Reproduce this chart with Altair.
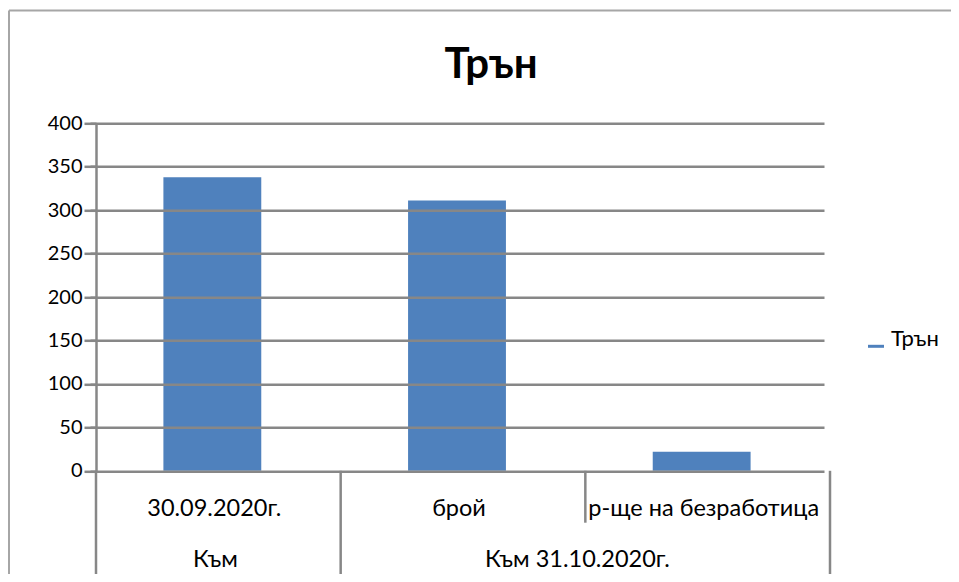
import altair as alt
import pandas as pd

# ---- data ----
categories = ["30.09.2020г.", "брой", "р-ще на безработица"]
values = [338, 311, 22]
group_labels = ["Към", "Към 31.10.2020г."]
series_name = "Трън"
chart_title = "Трън"
y_ticks = [0, 50, 100, 150, 200, 250, 300, 350, 400]

FONT = "Lato"
GRID = "#878787"
FRAME = "#A6A6A6"
BAR = "#4F81BD"
LW = 2.5

W, H = 734, 347.5
BOTTOM = 450.7
HALF_BAND = W / len(categories) / 2

bars_df = pd.DataFrame({"cat": categories, "value": values,
                        "series": [series_name] * len(categories)})
cat_df = pd.DataFrame({"cat": categories})
one = pd.DataFrame({"k": [0]})

xs = alt.Scale(domain=categories, paddingInner=0, paddingOuter=0)
bar_x = alt.Scale(domain=categories, paddingInner=0, paddingOuter=0, range=[-6, W - 6])
ys = alt.Scale(domain=[0, 400], nice=False)

bars = alt.Chart(bars_df).mark_bar(width=alt.RelativeBandSize(0.4)).encode(
    x=alt.X("cat:N", scale=bar_x, axis=None, sort=categories),
    y=alt.Y("value:Q", scale=ys, axis=alt.Axis(
        values=y_ticks, grid=True, gridColor=GRID, gridWidth=LW,
        domainColor=GRID, domainWidth=LW, tickColor=GRID, tickWidth=LW,
        tickSize=12, labelFont=FONT, labelFontSize=20, labelColor="black",
        labelPadding=2, title=None, zindex=1)),
    color=alt.Color("series:N", scale=alt.Scale(range=[BAR]), legend=alt.Legend(
        title=None, orient="none", legendX=769, legendY=212,
        symbolType="stroke", symbolSize=256, symbolStrokeWidth=3,
        symbolStrokeColor=BAR, labelFont=FONT, labelFontSize=22,
        labelColor="black", labelOffset=4, padding=0,
        labelBaseline="alphabetic")),
)

def sep(cats, pos, y2):
    return alt.Chart(pd.DataFrame({"cat": cats})).mark_rule(
        color=GRID, strokeWidth=LW).encode(
        x=alt.X("cat:N", scale=xs, axis=None, bandPosition=pos),
        y=alt.value(H), y2=alt.value(y2))

sep_full = sep(categories[:2], 0, BOTTOM)
sep_mid = sep(categories[2:], 0, 399.4)
sep_end = sep(categories[2:], 1, BOTTOM)

row1 = alt.Chart(cat_df).mark_text(
    font=FONT, fontSize=23.5, dx=-4, baseline="alphabetic", color="black").encode(
    x=alt.X("cat:N", scale=xs, axis=None), y=alt.value(392.7), text="cat:N")

g1 = alt.Chart(pd.DataFrame({"cat": [categories[0]], "label": [group_labels[0]]})).mark_text(
    font=FONT, fontSize=23.5, dx=-3, baseline="alphabetic", color="black").encode(
    x=alt.X("cat:N", scale=xs, axis=None), y=alt.value(444), text="label:N")

# second group spans categories 2 and 3: centred on their shared boundary
g2 = alt.Chart(pd.DataFrame({"cat": [categories[1]], "label": [group_labels[1]]})).mark_text(
    font=FONT, fontSize=23.5, dx=HALF_BAND - 8, baseline="alphabetic", color="black").encode(
    x=alt.X("cat:N", scale=xs, axis=None), y=alt.value(444), text="label:N")

title = alt.Chart(pd.DataFrame({"t": [chart_title]})).mark_text(
    font=FONT, fontSize=42, fontWeight="bold", color="black",
    baseline="alphabetic", align="center").encode(
    x=alt.value(395), y=alt.value(-45), text="t:N")

frame_top = alt.Chart(one).mark_rule(color=FRAME, strokeWidth=2).encode(
    x=alt.value(-87), x2=alt.value(W + 121), y=alt.value(-112.8))
frame_left = alt.Chart(one).mark_rule(color=FRAME, strokeWidth=2).encode(
    x=alt.value(-87), y=alt.value(-112.8), y2=alt.value(BOTTOM))

chart = alt.layer(
    frame_top, frame_left, bars, sep_full, sep_mid, sep_end, row1, g1, g2, title
).resolve_scale(x="independent").properties(
    width=W, height=H,
    autosize=alt.AutoSizeParams(type="none"),
    padding={"left": 88, "top": 115.3, "right": 121, "bottom": 103.2},
    background="white",
).configure_view(stroke=None)

chart.save("out.html", embed_options={"renderer": "svg", "actions": False})
